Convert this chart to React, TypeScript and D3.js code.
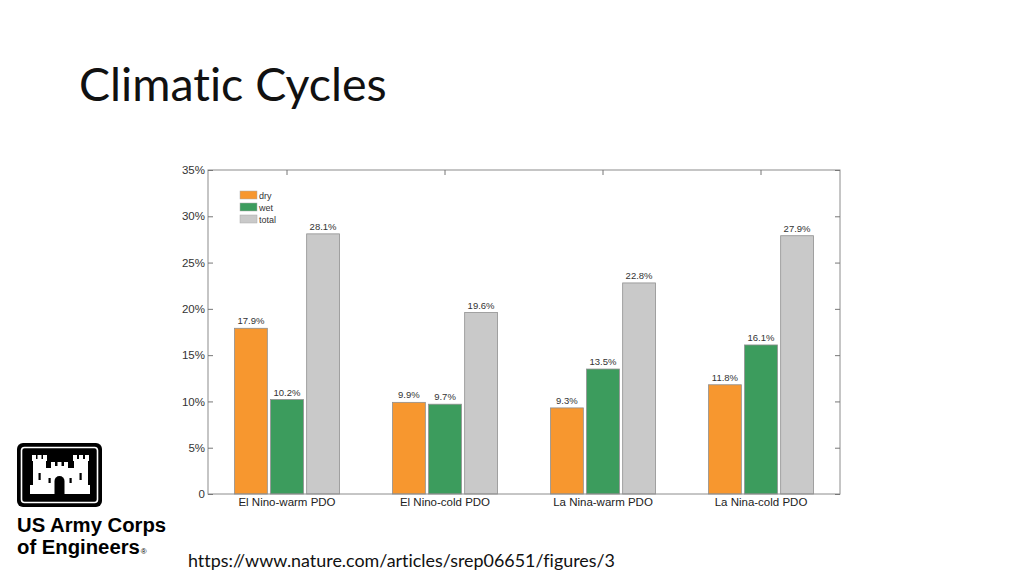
import React, { useRef, useEffect } from 'react';
import * as d3 from 'd3';

const categories = ['El Nino-warm PDO', 'El Nino-cold PDO', 'La Nina-warm PDO', 'La Nina-cold PDO'];
const seriesNames = ['dry', 'wet', 'total'];
const dryValues = [17.9, 9.9, 9.3, 11.8];
const wetValues = [10.2, 9.7, 13.5, 16.1];
const totalValues = [28.1, 19.6, 22.8, 27.9];
const yTicks = [0, 5, 10, 15, 20, 25, 30, 35];
const colors = ['#f7972f', '#3c9c5d', '#c9c9c9'];

const W = 1024;
const H = 576;

const App: React.FC = () => {
  const svgRef = useRef<SVGSVGElement | null>(null);

  useEffect(() => {
    document.body.style.margin = '0';
    const svg = d3.select(svgRef.current);
    svg.selectAll('*').remove();

    // 제목
    svg.append('text')
      .attr('x', 79).attr('y', 101)
      .attr('font-family', 'Lato, "Open Sans", sans-serif')
      .attr('font-size', 46.5).attr('fill', '#111')
      .style('font-variant-ligatures', 'none')
      .text('Climatic Cycles');

    // 출처
    svg.append('text')
      .attr('x', 188).attr('y', 567)
      .attr('font-family', 'Lato, "Open Sans", sans-serif')
      .attr('font-size', 17.9).attr('fill', '#111')
      .style('font-variant-ligatures', 'none')
      .text('https://www.nature.com/articles/srep06651/figures/3');

    // 차트 영역
    const left = 208, right = 840, top = 170, bottom = 494;
    const valuesBySeries = [dryValues, wetValues, totalValues];

    const x0 = d3.scaleBand().domain(categories).range([left, right]).padding(0);
    const x1 = d3.scaleBand().domain(seriesNames)
      .range([26.5, x0.bandwidth() - 26.5]).paddingInner(0.09);
    const y = d3.scaleLinear().domain([0, 35]).range([bottom, top]);

    const chart = svg.append('g').attr('font-family', 'Arial, "Liberation Sans", sans-serif');

    // 막대
    categories.forEach((cat, ci) => {
      const g = chart.append('g').attr('transform', `translate(${x0(cat)},0)`);
      seriesNames.forEach((s, si) => {
        const v = valuesBySeries[si][ci];
        g.append('rect')
          .attr('x', x1(s)!)
          .attr('y', y(v))
          .attr('width', x1.bandwidth())
          .attr('height', y(0) - y(v))
          .attr('fill', colors[si])
          .attr('stroke', '#8f8f8f')
          .attr('stroke-width', 0.8);
        g.append('text')
          .attr('x', x1(s)! + x1.bandwidth() / 2)
          .attr('y', y(v) - 4)
          .attr('text-anchor', 'middle')
          .attr('font-size', 9.5).attr('fill', '#333')
          .text(`${v.toFixed(1)}%`);
      });
    });

    // 테두리
    chart.append('rect')
      .attr('x', left).attr('y', top)
      .attr('width', right - left).attr('height', bottom - top)
      .attr('fill', 'none').attr('stroke', '#8c8c8c').attr('stroke-width', 1);

    // Y축
    const yAxis = chart.append('g').attr('transform', `translate(${left},0)`)
      .call(d3.axisLeft(y).tickValues(yTicks).tickSize(-5).tickPadding(3)
        .tickFormat((d) => (+d === 0 ? '0' : `${d}%`)));
    yAxis.select('.domain').remove();
    yAxis.selectAll('line').attr('stroke', '#777');
    yAxis.selectAll('text').attr('font-size', 11.5).attr('fill', '#333')
      .attr('font-family', 'Arial, "Liberation Sans", sans-serif');

    const yAxisR = chart.append('g').attr('transform', `translate(${right},0)`)
      .call(d3.axisRight(y).tickValues(yTicks).tickSize(-5).tickFormat(() => ''));
    yAxisR.select('.domain').remove();
    yAxisR.selectAll('line').attr('stroke', '#777');

    // X축
    const xAxis = chart.append('g').attr('transform', `translate(0,${bottom})`)
      .call(d3.axisBottom(x0).tickSize(0).tickPadding(4));
    xAxis.select('.domain').remove();
    xAxis.selectAll('text').attr('font-size', 11.5).attr('fill', '#222')
      .attr('font-family', 'Arial, "Liberation Sans", sans-serif');

    const xTop = chart.append('g').attr('transform', `translate(0,${top})`)
      .call(d3.axisTop(x0).tickSize(-5).tickFormat(() => ''));
    xTop.select('.domain').remove();
    xTop.selectAll('line').attr('stroke', '#777');

    // 범례
    const legend = chart.append('g').attr('transform', 'translate(240,191)');
    seriesNames.forEach((s, i) => {
      legend.append('rect')
        .attr('x', 0).attr('y', i * 12)
        .attr('width', 17).attr('height', 8)
        .attr('fill', colors[i]).attr('stroke', '#aaa').attr('stroke-width', 0.5);
      legend.append('text')
        .attr('x', 19).attr('y', i * 12 + 7.5)
        .attr('font-size', 9).attr('fill', '#333')
        .text(s);
    });

    // 로고
    const logo = svg.append('g');
    logo.append('rect').attr('x', 17).attr('y', 443).attr('width', 85).attr('height', 64)
      .attr('rx', 6).attr('fill', '#000');
    logo.append('rect').attr('x', 21.5).attr('y', 447.5).attr('width', 76).attr('height', 55)
      .attr('rx', 3).attr('fill', 'none').attr('stroke', '#fff').attr('stroke-width', 1.6);
    // 성 모양
    const castle = [
      [32, 455], [36, 455], [36, 459], [37.5, 459], [37.5, 455], [41.5, 455], [41.5, 459], [43, 459], [43, 455], [47, 455],
      [47, 461], [46, 461], [46, 468], [51, 468], [51, 462], [55, 462], [55, 466], [57.5, 466], [57.5, 462],
      [61.5, 462], [61.5, 466], [64, 466], [64, 462], [68, 462], [68, 468], [74, 468], [74, 461], [73, 461],
      [73, 455], [77, 455], [77, 459], [79, 459], [79, 455], [83, 455], [83, 459], [85, 459], [85, 455], [89, 455],
      [89, 461], [88, 461], [88, 485], [90, 485], [90, 494], [30, 494], [30, 485], [33, 485], [33, 461], [32, 461],
    ];
    logo.append('path')
      .attr('d', d3.line()(castle as [number, number][])! + 'Z')
      .attr('fill', '#fff');
    // 문
    logo.append('path')
      .attr('d', 'M54.5,494 L54.5,481 A5,5 0 0 1 64.5,481 L64.5,494 Z')
      .attr('fill', '#000');
    // 창문
    [[38.5, 473, 7], [79.5, 473, 7], [48.5, 478, 5], [69.5, 478, 5]].forEach(([wx, wy, wh]) => {
      logo.append('rect').attr('x', wx).attr('y', wy).attr('width', 2.2).attr('height', wh).attr('fill', '#000');
    });

    logo.append('text').attr('x', 17).attr('y', 532)
      .attr('font-family', 'Arial, "Liberation Sans", sans-serif').attr('font-weight', 'bold')
      .attr('font-size', 20.3).attr('fill', '#000').text('US Army Corps');
    const eng = logo.append('text').attr('x', 17).attr('y', 554)
      .attr('font-family', 'Arial, "Liberation Sans", sans-serif').attr('font-weight', 'bold')
      .attr('font-size', 20.3).attr('fill', '#000');
    eng.append('tspan').text('of Engineers');
    eng.append('tspan').attr('font-size', 8).attr('font-weight', 'normal').attr('dx', 1).text('®');
  }, []);

  return <svg ref={svgRef} width={W} height={H} style={{ display: 'block', background: '#fff' }} />;
};

export default App;
